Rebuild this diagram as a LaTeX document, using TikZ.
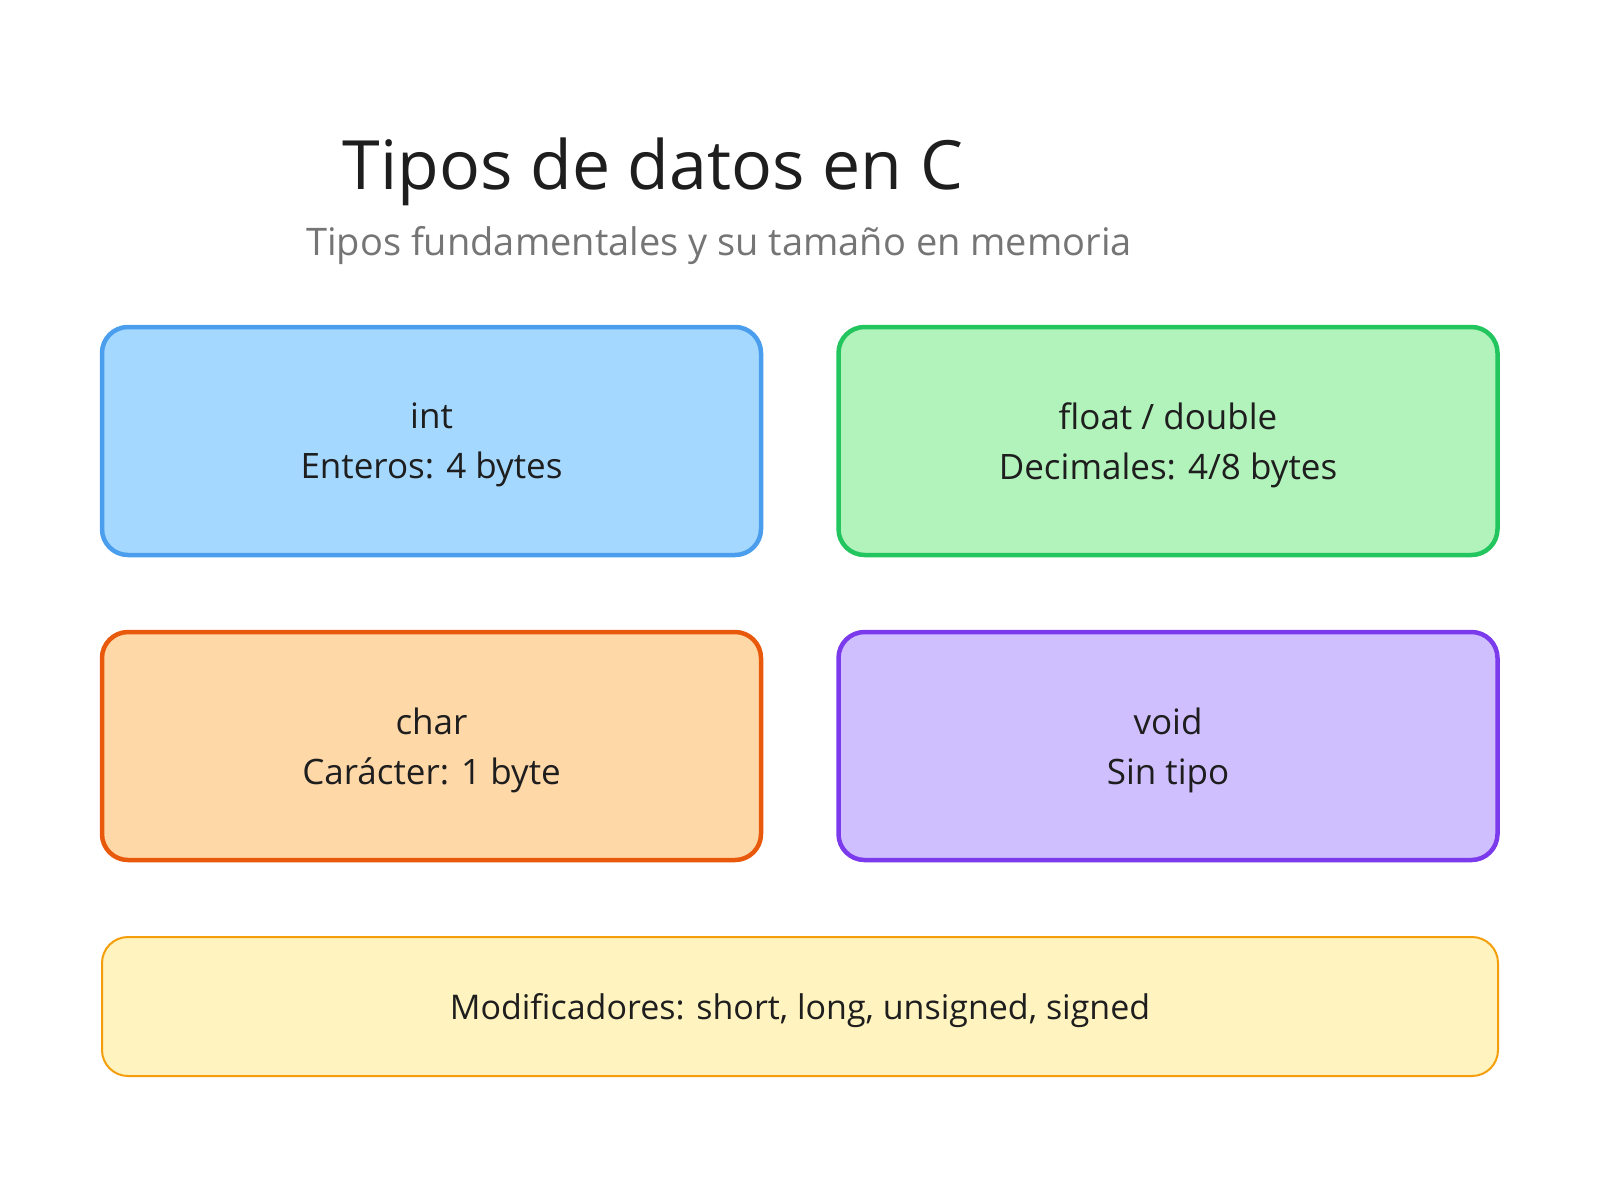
\documentclass[tikz,border=0pt]{standalone}
\usepackage{fontspec}
\setmainfont{Open Sans}
\definecolor{txt}{HTML}{1E1E1E}
\definecolor{subt}{HTML}{757575}
\definecolor{bluef}{HTML}{A5D8FF}\definecolor{blued}{HTML}{4A9EED}
\definecolor{greenf}{HTML}{B2F2BB}\definecolor{greend}{HTML}{22C55E}
\definecolor{orangef}{HTML}{FFD8A8}\definecolor{oranged}{HTML}{E8590C}
\definecolor{purplef}{HTML}{D0BFFF}\definecolor{purpled}{HTML}{7C3AED}
\definecolor{yellowf}{HTML}{FFF3BF}\definecolor{yellowd}{HTML}{F59E0B}
\begin{document}
\begin{tikzpicture}[x=1pt,y=-1pt,
  typebox/.style={draw, line width=4.5pt, rounded corners=26pt, minimum width=659pt, minimum height=228pt, inner sep=0pt,
    align=center, text depth=-1pt, text=txt, font=\fontsize{35}{50}\selectfont},
  modbox/.style={draw=yellowd, fill=yellowf, line width=2pt, rounded corners=26pt, minimum width=1396pt, minimum height=139pt,
    inner sep=0pt, text depth=0pt, text=txt, font=\fontsize{34}{49}\selectfont}]
\useasboundingbox (0,0) rectangle (1600,1200);
\node[text=txt, font=\fontsize{68}{80}\selectfont, anchor=base] (title) at (653,189) {Tipos de datos en C};
\node[text=subt, font=\fontsize{38}{46}\selectfont, anchor=base] (sub) at (719,255) {Tipos fundamentales y su tamaño en memoria};
\node[typebox, draw=blued, fill=bluef] (int) at (431.5,441) {int\\Enteros: 4 bytes};
\node[typebox, draw=greend, fill=greenf] (float) at (1168,441) {float / double\\Decimales: 4/8 bytes};
\node[typebox, draw=oranged, fill=orangef] (char) at (431.5,746) {char\\Carácter: 1 byte};
\node[typebox, draw=purpled, fill=purplef] (void) at (1168,746) {void\\Sin tipo};
\node[modbox] (mod) at (800,1006.5) {Modificadores: short, long, unsigned, signed};
\end{tikzpicture}
\end{document}
